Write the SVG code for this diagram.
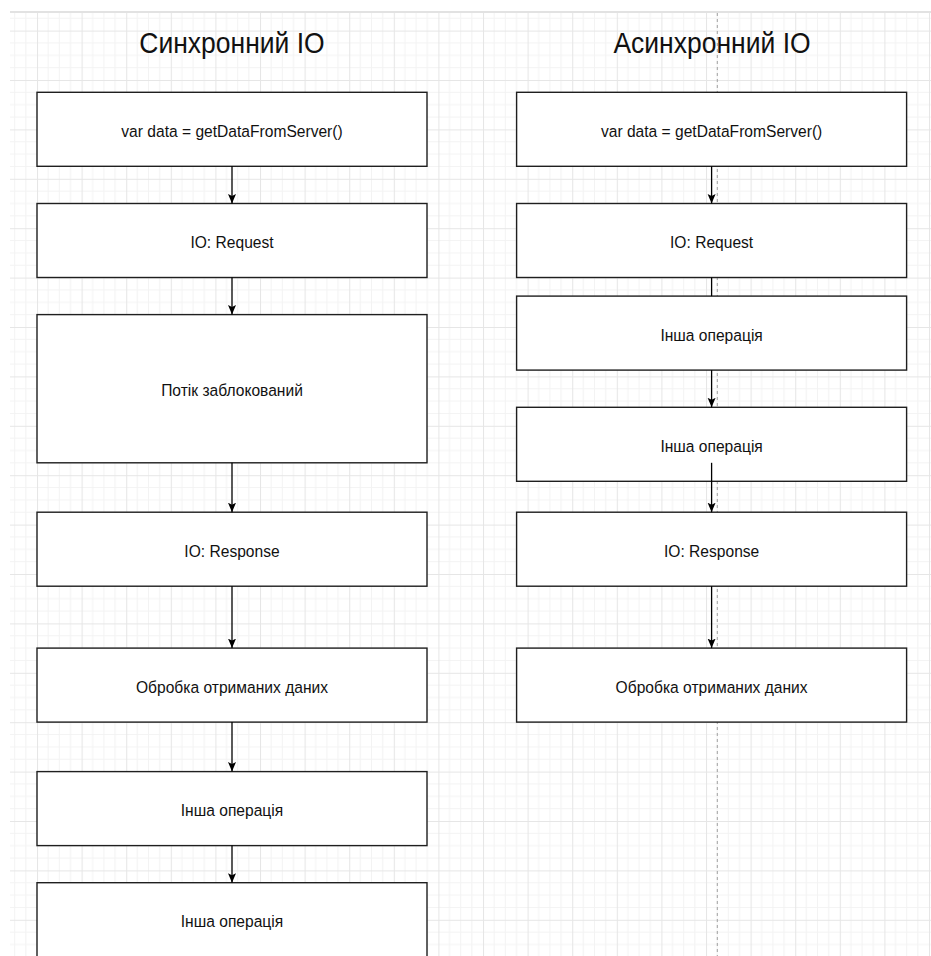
<svg xmlns="http://www.w3.org/2000/svg" width="931" height="956" viewBox="0 0 931 956">
  <style>
    .box { fill: #ffffff; stroke: #1f1f1f; stroke-width: 1.4; }
    .lbl { font-family: "Liberation Sans", Arial, sans-serif; font-size: 15.6px; fill: #111111; text-anchor: middle; }
    .ttl { font-family: "Liberation Sans", Arial, sans-serif; font-size: 26.5px; fill: #111111; text-anchor: middle; }
    .edge { fill: none; stroke: #000000; stroke-width: 1.3; }
    .arrow { marker-end: url(#head); }
  </style>
  <defs>
    <!-- background grid: major cell 44.6 x 49.4, 4 minor divisions -->
    <pattern id="grid" patternUnits="userSpaceOnUse" x="37" y="30.6" width="44.6" height="49.4">
      <rect width="44.6" height="49.4" fill="#ffffff"/>
      <g stroke="#f3f3f3" stroke-width="1">
        <line x1="11.15" y1="0" x2="11.15" y2="49.4"/>
        <line x1="22.3" y1="0" x2="22.3" y2="49.4"/>
        <line x1="33.45" y1="0" x2="33.45" y2="49.4"/>
        <line x1="0" y1="12.35" x2="44.6" y2="12.35"/>
        <line x1="0" y1="24.7" x2="44.6" y2="24.7"/>
        <line x1="0" y1="37.05" x2="44.6" y2="37.05"/>
      </g>
      <g stroke="#e6e6e6" stroke-width="1">
        <line x1="0.5" y1="0" x2="0.5" y2="49.4"/>
        <line x1="0" y1="0.5" x2="44.6" y2="0.5"/>
      </g>
    </pattern>
    <marker id="head" viewBox="0 -5 10 10" refX="9.5" refY="0" markerWidth="10" markerHeight="10" markerUnits="userSpaceOnUse" orient="auto">
      <path d="M0,-4 L9.5,0 L0,4 L2,0 Z" fill="#000000"/>
    </marker>
  </defs>

  <!-- canvas -->
  <rect x="0" y="0" width="931" height="956" fill="#ffffff"/>
  <rect x="10" y="12" width="921" height="944" fill="url(#grid)"/>
  <line x1="10" y1="12" x2="931" y2="12" stroke="#e2e2e2" stroke-width="2"/>

  <!-- page divider -->
  <line x1="717.3" y1="13" x2="717.3" y2="956" stroke="#a0a0a0" stroke-width="1" stroke-dasharray="3 3"/>

  <!-- titles -->
  <g id="title-sync">
    <text class="ttl" transform="translate(232 53.3) scale(1 1.09)">Синхронний IO</text>
  </g>
  <g id="title-async">
    <text class="ttl" transform="translate(712 53.3) scale(1 1.09)">Асинхронний IO</text>
  </g>

  <!-- synchronous column -->
  <g id="s1">
    <rect class="box" x="37" y="92.3" width="390" height="74"/>
    <text class="lbl" transform="translate(232 136.8) scale(1 1.108)">var data = getDataFromServer()</text>
  </g>
  <g id="s2">
    <rect class="box" x="37" y="203.5" width="390" height="74"/>
    <text class="lbl" transform="translate(232 248) scale(1 1.108)">IO: Request</text>
  </g>
  <g id="s3">
    <rect class="box" x="37" y="314.6" width="390" height="148.2"/>
    <text class="lbl" transform="translate(232 396) scale(1 1.108)">Потік заблокований</text>
  </g>
  <g id="s4">
    <rect class="box" x="37" y="512.2" width="390" height="74"/>
    <text class="lbl" transform="translate(232 556.7) scale(1 1.108)">IO: Response</text>
  </g>
  <g id="s5">
    <rect class="box" x="37" y="648.1" width="390" height="74"/>
    <text class="lbl" transform="translate(232 692.6) scale(1 1.108)">Обробка отриманих даних</text>
  </g>
  <g id="s6">
    <rect class="box" x="37" y="771.6" width="390" height="74"/>
    <text class="lbl" transform="translate(232 816) scale(1 1.108)">Інша операція</text>
  </g>
  <g id="s7">
    <rect class="box" x="37" y="882.7" width="390" height="76"/>
    <text class="lbl" transform="translate(232 927) scale(1 1.108)">Інша операція</text>
  </g>

  <!-- asynchronous column -->
  <g id="a1">
    <rect class="box" x="516.6" y="92.3" width="390" height="74"/>
    <text class="lbl" transform="translate(711.6 136.8) scale(1 1.108)">var data = getDataFromServer()</text>
  </g>
  <g id="a2">
    <rect class="box" x="516.6" y="203.5" width="390" height="74"/>
    <text class="lbl" transform="translate(711.6 248) scale(1 1.108)">IO: Request</text>
  </g>
  <g id="a3">
    <rect class="box" x="516.6" y="296.1" width="390" height="74"/>
    <text class="lbl" transform="translate(711.6 340.6) scale(1 1.108)">Інша операція</text>
  </g>
  <g id="a4">
    <rect class="box" x="516.6" y="407.3" width="390" height="74"/>
    <text class="lbl" transform="translate(711.6 451.8) scale(1 1.108)">Інша операція</text>
  </g>
  <g id="a5">
    <rect class="box" x="516.6" y="512.2" width="390" height="74"/>
    <text class="lbl" transform="translate(711.6 556.7) scale(1 1.108)">IO: Response</text>
  </g>
  <g id="a6">
    <rect class="box" x="516.6" y="648.1" width="390" height="74"/>
    <text class="lbl" transform="translate(711.6 692.6) scale(1 1.108)">Обробка отриманих даних</text>
  </g>

  <!-- connectors -->
  <g id="connectors">
    <line class="edge arrow" x1="232" y1="166.3" x2="232" y2="203.5"/>
    <line class="edge arrow" x1="232" y1="277.5" x2="232" y2="314.6"/>
    <line class="edge arrow" x1="232" y1="462.8" x2="232" y2="512.2"/>
    <line class="edge arrow" x1="232" y1="586.2" x2="232" y2="648.1"/>
    <line class="edge arrow" x1="232" y1="722.1" x2="232" y2="771.6"/>
    <line class="edge arrow" x1="232" y1="845.6" x2="232" y2="882.7"/>

    <line class="edge arrow" x1="711.6" y1="166.3" x2="711.6" y2="203.5"/>
    <line class="edge" x1="711.6" y1="277.5" x2="711.6" y2="296.1"/>
    <line class="edge arrow" x1="711.6" y1="370.1" x2="711.6" y2="407.3"/>
    <line class="edge arrow" x1="711.6" y1="462.8" x2="711.6" y2="512.2"/>
    <line class="edge arrow" x1="711.6" y1="586.2" x2="711.6" y2="648.1"/>
  </g>
</svg>
